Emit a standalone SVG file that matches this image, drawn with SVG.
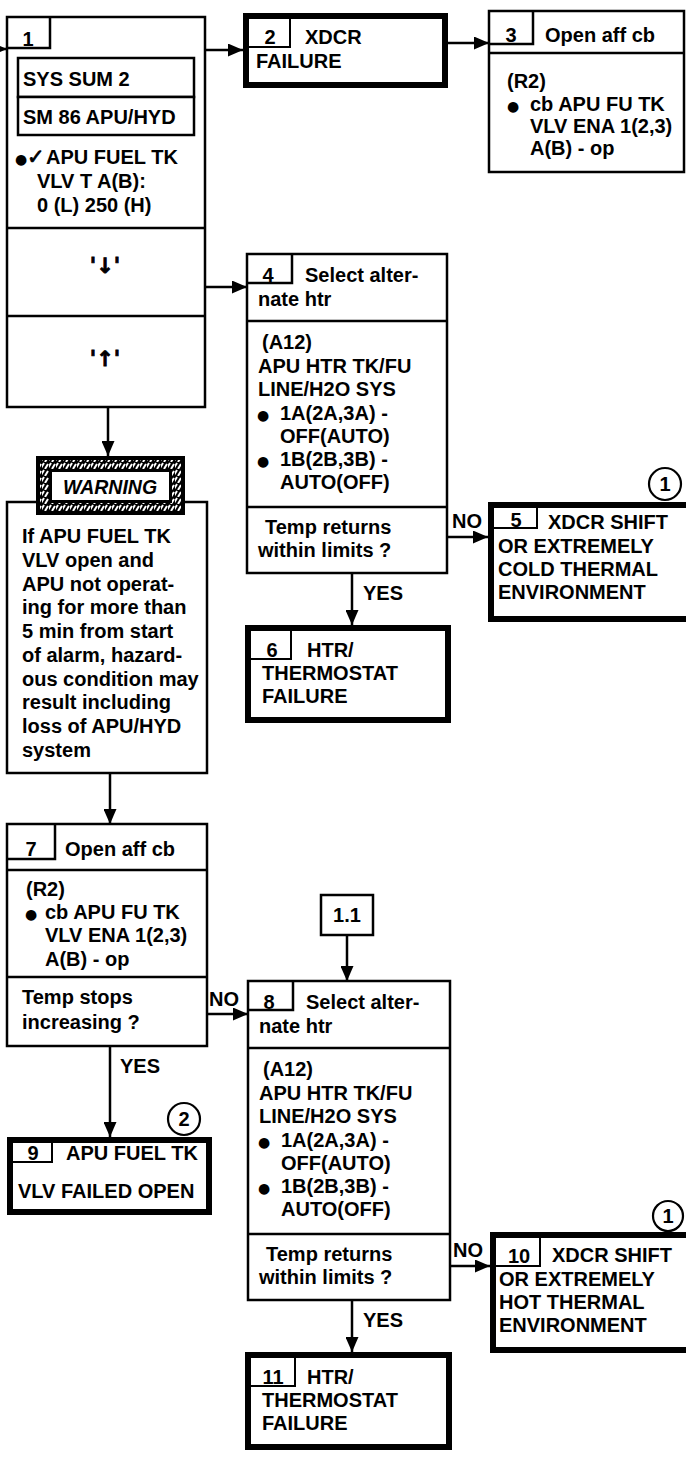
<svg xmlns="http://www.w3.org/2000/svg" width="686" height="1460" viewBox="0 0 686 1460">
<defs>
<marker id="ah" markerUnits="userSpaceOnUse" markerWidth="15" markerHeight="13" refX="15" refY="6.5" orient="auto">
<path d="M0,0 L15,6.5 L0,13 z" fill="#000"/>
</marker>
<pattern id="hatch" patternUnits="userSpaceOnUse" width="7" height="7">
<rect width="7" height="7" fill="#000"/>
<path d="M-1,6 L2,1 M3,7 L6,2" stroke="#fff" stroke-width="2"/>
</pattern>
<style>
text{font-family:"Liberation Sans","DejaVu Sans",sans-serif;font-weight:bold;font-size:20px;fill:#000}
.c{text-anchor:middle}
.b{font-family:"DejaVu Sans",sans-serif;font-size:14px}
.ar{font-family:"DejaVu Sans",sans-serif;font-size:21px;stroke:#000;stroke-width:0.8}
.w{font-style:italic;font-size:19.5px}
.box{fill:#fff;stroke:#000;stroke-width:2.5}
.thick{fill:#fff;stroke:#000;stroke-width:6}
.ln{fill:none;stroke:#000;stroke-width:2.5}
.tl{fill:none;stroke:#000;stroke-width:2}
.con{fill:none;stroke:#000;stroke-width:2.5;marker-end:url(#ah)}
.circ{fill:#fff;stroke:#000;stroke-width:2.2}
</style>
</defs>
<rect width="686" height="1460" fill="#fff"/>

<g id="n1">
<rect class="box" x="7" y="17" width="198" height="390"/>
<polyline class="ln" points="50,17 50,48 7,48"/>
<text class="c" x="28" y="46">1</text>
<rect class="box" x="18" y="58" width="176" height="39"/>
<rect class="box" x="18" y="97" width="176" height="38"/>
<text x="23" y="86">SYS SUM 2</text>
<text x="23" y="124">SM 86 APU/HYD</text>
<text y="164"><tspan x="15" class="b">●</tspan><tspan x="27" class="ar">✓</tspan><tspan x="46">APU FUEL TK</tspan></text>
<text x="37" y="188">VLV T A(B):</text>
<text x="37" y="212">0 (L) 250 (H)</text>
<line class="ln" x1="7" y1="228" x2="205" y2="228"/>
<line class="ln" x1="7" y1="316" x2="205" y2="316"/>
<text class="c ar" x="105" y="273">'↓'</text>
<text class="c ar" x="105" y="366">'↑'</text>
</g>

<g id="n2">
<rect class="thick" x="246" y="16" width="199" height="69"/>
<polyline class="tl" points="290,19 290,47 249,47"/>
<text class="c" x="270" y="44">2</text>
<text x="305" y="44">XDCR</text>
<text x="256" y="68">FAILURE</text>
</g>

<g id="n3">
<rect class="box" x="489" y="11" width="195" height="161"/>
<polyline class="ln" points="533,11 533,44 489,44"/>
<line class="ln" x1="489" y1="53" x2="684" y2="53"/>
<text class="c" x="511" y="42">3</text>
<text x="545" y="42">Open aff cb</text>
<text x="507" y="88">(R2)</text>
<text y="111"><tspan x="507" class="b">●</tspan><tspan x="530">cb APU FU TK</tspan></text>
<text x="530" y="133">VLV ENA 1(2,3)</text>
<text x="530" y="155">A(B) - op</text>
</g>

<g id="n4">
<rect class="box" x="247" y="254" width="200" height="319"/>
<polyline class="ln" points="292,254 292,283 247,283"/>
<line class="ln" x1="247" y1="321" x2="447" y2="321"/>
<line class="ln" x1="247" y1="507" x2="447" y2="507"/>
<text class="c" x="268" y="282">4</text>
<text x="305" y="282">Select alter-</text>
<text x="258" y="306">nate htr</text>
<text x="262" y="349">(A12)</text>
<text x="258" y="373">APU HTR TK/FU</text>
<text x="258" y="396">LINE/H2O SYS</text>
<text y="420"><tspan x="257" class="b">●</tspan><tspan x="280">1A(2A,3A) -</tspan></text>
<text x="280" y="443">OFF(AUTO)</text>
<text y="466"><tspan x="257" class="b">●</tspan><tspan x="280">1B(2B,3B) -</tspan></text>
<text x="280" y="489">AUTO(OFF)</text>
<text x="265" y="534">Temp returns</text>
<text x="258" y="557">within limits ?</text>
</g>

<g id="n5">
<rect class="thick" x="491" y="505" width="200" height="114"/>
<polyline class="tl" points="537,508 537,528 494,528"/>
<text class="c" x="516" y="527">5</text>
<text x="548" y="529">XDCR SHIFT</text>
<text x="498" y="553">OR EXTREMELY</text>
<text x="498" y="576">COLD THERMAL</text>
<text x="498" y="599">ENVIRONMENT</text>
</g>
<g id="ref5">
<circle class="circ" cx="665" cy="484" r="16"/>
<text class="c" x="665" y="491">1</text>
</g>

<g id="n6">
<rect class="thick" x="248" y="628" width="200" height="92"/>
<polyline class="tl" points="291,631 291,659 251,659"/>
<text class="c" x="272" y="657">6</text>
<text x="307" y="657">HTR/</text>
<text x="262" y="680">THERMOSTAT</text>
<text x="262" y="703">FAILURE</text>
</g>

<g id="warning">
<rect class="box" x="7" y="502" width="200" height="271"/>
<rect x="36" y="456" width="149" height="59" fill="#000"/>
<rect x="40" y="460" width="141" height="51" fill="url(#hatch)"/>
<rect x="49" y="469" width="123" height="34" fill="#000"/>
<rect x="52" y="472" width="117" height="28" fill="#fff"/>
<text class="c w" x="110" y="494">WARNING</text>
<text x="22" y="543">If APU FUEL TK</text>
<text x="22" y="567">VLV open and</text>
<text x="22" y="591">APU not operat-</text>
<text x="22" y="614">ing for more than</text>
<text x="22" y="638">5 min from start</text>
<text x="22" y="662">of alarm, hazard-</text>
<text x="22" y="686">ous condition may</text>
<text x="22" y="709">result including</text>
<text x="22" y="733">loss of APU/HYD</text>
<text x="22" y="757">system</text>
</g>

<g id="n7">
<rect class="box" x="7" y="824" width="200" height="222"/>
<polyline class="ln" points="55,824 55,859 7,859" stroke-width="3"/>
<line class="ln" x1="7" y1="870" x2="207" y2="870"/>
<line class="ln" x1="7" y1="977" x2="207" y2="977"/>
<text class="c" x="31" y="856">7</text>
<text x="65" y="856">Open aff cb</text>
<text x="26" y="896">(R2)</text>
<text y="919"><tspan x="25" class="b">●</tspan><tspan x="45">cb APU FU TK</tspan></text>
<text x="45" y="942">VLV ENA 1(2,3)</text>
<text x="45" y="966">A(B) - op</text>
<text x="22" y="1004">Temp stops</text>
<text x="22" y="1029">increasing ?</text>
</g>

<g id="n9">
<rect class="thick" x="10" y="1140" width="199" height="72"/>
<polyline class="tl" points="52,1143 52,1162 13,1162"/>
<text class="c" x="33" y="1160">9</text>
<text x="66" y="1160">APU FUEL TK</text>
<text x="18" y="1198">VLV FAILED OPEN</text>
</g>
<g id="ref9">
<circle class="circ" cx="184" cy="1119" r="16"/>
<text class="c" x="184" y="1126">2</text>
</g>

<g id="n1_1">
<rect class="box" x="321" y="895" width="52" height="40"/>
<text class="c" x="347" y="922">1.1</text>
</g>

<g id="n8">
<rect class="box" x="248" y="981" width="202" height="319"/>
<polyline class="ln" points="293,981 293,1010 248,1010"/>
<line class="ln" x1="248" y1="1048" x2="450" y2="1048"/>
<line class="ln" x1="248" y1="1234" x2="450" y2="1234"/>
<text class="c" x="269" y="1009">8</text>
<text x="306" y="1009">Select alter-</text>
<text x="259" y="1033">nate htr</text>
<text x="263" y="1076">(A12)</text>
<text x="259" y="1100">APU HTR TK/FU</text>
<text x="259" y="1123">LINE/H2O SYS</text>
<text y="1147"><tspan x="258" class="b">●</tspan><tspan x="281">1A(2A,3A) -</tspan></text>
<text x="281" y="1170">OFF(AUTO)</text>
<text y="1193"><tspan x="258" class="b">●</tspan><tspan x="281">1B(2B,3B) -</tspan></text>
<text x="281" y="1216">AUTO(OFF)</text>
<text x="266" y="1261">Temp returns</text>
<text x="259" y="1284">within limits ?</text>
</g>

<g id="n10">
<rect class="thick" x="493" y="1235" width="200" height="115"/>
<polyline class="tl" points="540,1238 540,1266 496,1266"/>
<text class="c" x="519" y="1263">10</text>
<text x="552" y="1262">XDCR SHIFT</text>
<text x="499" y="1286">OR EXTREMELY</text>
<text x="499" y="1309">HOT THERMAL</text>
<text x="499" y="1332">ENVIRONMENT</text>
</g>
<g id="ref10">
<circle class="circ" cx="668" cy="1216" r="15"/>
<text class="c" x="668" y="1223">1</text>
</g>

<g id="n11">
<rect class="thick" x="248" y="1355" width="201" height="92"/>
<polyline class="tl" points="295,1358 295,1386 251,1386"/>
<text class="c" x="273" y="1384">11</text>
<text x="307" y="1384">HTR/</text>
<text x="262" y="1407">THERMOSTAT</text>
<text x="262" y="1430">FAILURE</text>
</g>

<g id="connectors">
<path class="con" d="M-4 49 H7"/>
<path class="con" d="M205 50 H243"/>
<path class="con" d="M448 43 H489"/>
<path class="con" d="M205 287 H247"/>
<path class="con" d="M108 407 V456"/>
<path class="con" d="M110 773 V824"/>
<path class="con" d="M447 537 H488"/>
<path class="con" d="M352 573 V625"/>
<path class="con" d="M207 1014 H248"/>
<path class="con" d="M110 1046 V1137"/>
<path class="con" d="M347 935 V981"/>
<path class="con" d="M450 1266 H490"/>
<path class="con" d="M352 1300 V1352"/>
<text x="452" y="528">NO</text>
<text x="363" y="600">YES</text>
<text x="209" y="1006">NO</text>
<text x="120" y="1073">YES</text>
<text x="453" y="1257">NO</text>
<text x="363" y="1327">YES</text>
</g>
</svg>
